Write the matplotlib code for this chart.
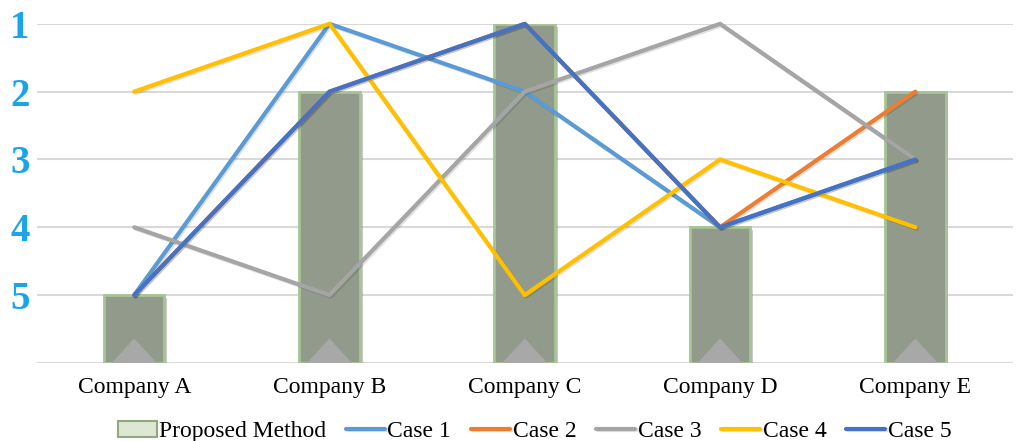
import matplotlib
matplotlib.use("Agg")
import matplotlib.pyplot as plt
import matplotlib.patheffects as pe
from matplotlib.patches import Polygon, Patch
import numpy as np

companies = ["Company A", "Company B", "Company C", "Company D", "Company E"]
proposed = [5, 2, 1, 4, 2]
case1 = [5, 1, 2, 4, 3]
case2 = [5, 2, 1, 4, 2]
case3 = [4, 5, 2, 1, 3]
case4 = [2, 1, 5, 3, 4]
case5 = [5, 2, 1, 4, 3]
rank_ticks = [1, 2, 3, 4, 5]

cases = [("Case 1", case1, "#5B9BD5"), ("Case 2", case2, "#ED7D31"),
         ("Case 3", case3, "#A5A5A5"), ("Case 4", case4, "#FFC000"),
         ("Case 5", case5, "#4472C4")]

plt.rcParams["font.family"] = ["Liberation Serif", "DejaVu Serif"]

fig = plt.figure(figsize=(10.16, 4.41), dpi=100)
ax = fig.add_axes([0.036, 0.177, 0.961, 0.769])

bottom = 6
x = np.arange(len(companies))
width = 0.31

# bars grow from the bottom (rank 6) up to the rank
bars = ax.bar(x, [p - bottom for p in proposed], width, bottom=bottom,
              color="#929B8B", edgecolor="#A6C496", linewidth=2.0, zorder=2,
              path_effects=[pe.SimplePatchShadow(offset=(2, -2), alpha=0.25), pe.Normal()])
for b in bars:
    x0 = b.get_x()
    w = b.get_width()
    tri = Polygon([[x0 + 0.04, bottom], [x0 + w / 2, bottom - 0.36], [x0 + w - 0.04, bottom]],
                  closed=True, facecolor="#A8A8A8", edgecolor="none", zorder=2.5)
    ax.add_patch(tri)

handles = [Patch(facecolor="#DCE8D3", edgecolor="#8FA882", linewidth=1.5)]
for name, vals, col in cases:
    ln, = ax.plot(x, vals, color=col, lw=3.0, label=name, zorder=3, clip_on=False,
                  solid_capstyle="round",
                  path_effects=[pe.SimpleLineShadow(offset=(1, -1), alpha=0.12), pe.Normal()])
    handles.append(ln)

ax.set_xlim(-0.5, 4.5)
ax.set_ylim(6, 1)
ax.set_yticks(rank_ticks + [6])
ax.set_yticklabels([str(t) for t in rank_ticks] + [""])
ax.grid(axis="y", color="#D9D9D9", lw=1.5, zorder=0)
ax.set_axisbelow(True)
for s in ax.spines.values():
    s.set_visible(False)
ax.tick_params(axis="y", length=0, pad=5, labelsize=28, labelcolor="#1AA6E6")
for lbl in ax.get_yticklabels():
    lbl.set_fontweight("bold")
ax.set_xticks(x)
ax.set_xticklabels(companies, fontsize=17)
ax.tick_params(axis="x", length=0, pad=10)

ax.legend(handles=handles, labels=["Proposed Method"] + [c[0] for c in cases],
          loc="upper center", bbox_to_anchor=(0.51, -0.142), ncol=6, frameon=False,
          fontsize=17, handlelength=1.65, handletextpad=0.1, columnspacing=0.85,
          borderaxespad=0)

fig.savefig("out.png", dpi=100)
